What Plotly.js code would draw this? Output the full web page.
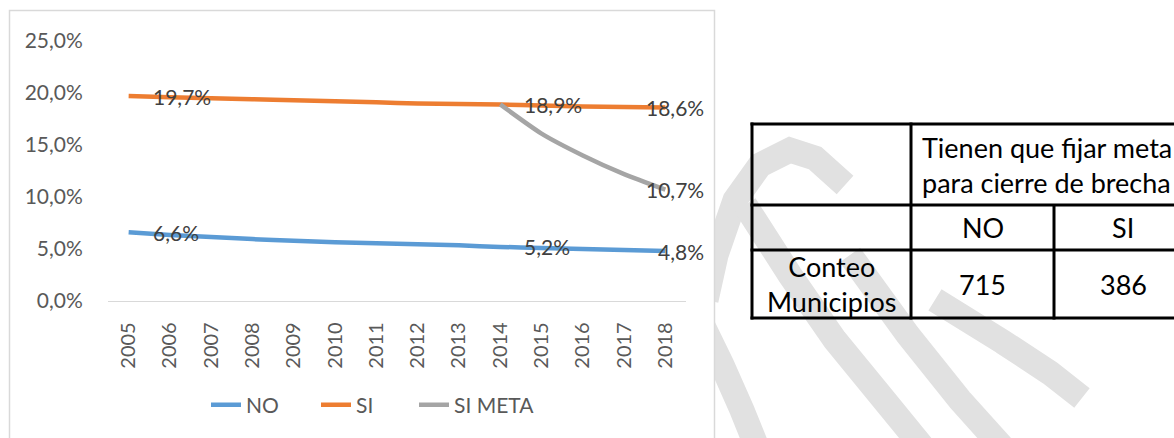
<!DOCTYPE html>
<html>
<head>
<meta charset="utf-8">
<script src="https://cdn.plot.ly/plotly-3.0.1.min.js"></script>
<style>
html,body{margin:0;padding:0;background:#ffffff;}
#chart{width:1174px;height:438px;}
</style>
</head>
<body>
<div id="chart"></div>
<script>
// ---------- data ----------
const years = ['2005','2006','2007','2008','2009','2010','2011','2012','2013','2014','2015','2016','2017','2018'];
const noValues = [6.6, 6.35, 6.15, 5.95, 5.8, 5.65, 5.55, 5.45, 5.35, 5.2, 5.1, 5.0, 4.9, 4.8];
const siValues = [19.7, 19.6, 19.5, 19.4, 19.3, 19.2, 19.1, 19.0, 18.95, 18.9, 18.8, 18.7, 18.65, 18.6];
const siMetaValues = [null, null, null, null, null, null, null, null, null, 18.9, 16.1, 14.0, 12.2, 10.7];
const seriesNames = ['NO', 'SI', 'SI META'];
const yTickValues = [0, 5, 10, 15, 20, 25];
const yTickLabels = ['0,0%', '5,0%', '10,0%', '15,0%', '20,0%', '25,0%'];
const labelledYears = ['2005', '2014', '2018'];

const tableHeader = ['Tienen que fijar meta', 'para cierre de brecha'];
const tableColumns = ['NO', 'SI'];
const tableRowLabel = ['Conteo', 'Municipios'];
const tableCounts = [715, 386];

// ---------- helpers ----------
const W = 1174, H = 438;
const px = v => v / W;
const py = v => 1 - v / H;
const fmt = v => v.toFixed(1).replace('.', ',') + '%';
const path = pts => pts.map((p, i) => (i ? 'L' : 'M') + px(p[0]).toFixed(4) + ',' + py(p[1]).toFixed(4)).join(' ');

const colors = ['#5B9BD5', '#ED7D31', '#A5A5A5'];
const seriesValues = [noValues, siValues, siMetaValues];
const legendWidths = [65, 53, 80];

const traces = seriesValues.map((vals, k) => ({
  type: 'scatter', mode: 'lines', name: seriesNames[k],
  x: years, y: vals,
  line: {color: colors[k], width: 4.5, shape: 'spline', smoothing: 0.6},
  connectgaps: false, hoverinfo: 'skip',
  legendwidth: legendWidths[k]
}));

// ---------- data labels ----------
const annotations = [];
seriesValues.forEach((vals) => {
  labelledYears.forEach((yr) => {
    const i = years.indexOf(yr);
    const v = vals[i];
    if (v === null || v === undefined) return;
    if (vals === siMetaValues && yr !== '2018') return;
    const last = (yr === '2018');
    annotations.push({
      x: i, y: v, xref: 'x', yref: 'y', text: fmt(v), showarrow: false,
      xanchor: last ? 'right' : 'left', yanchor: 'middle',
      xshift: last ? 41 : 22,
      font: {family: 'Lato, sans-serif', size: 21, color: '#404040'}
    });
  });
});

// ---------- table ----------
const T = {top: 124, r1: 205, r2: 250, bottom: 318, left: 752, c1: 911, c2: 1054};
const tFont = {family: 'Lato, sans-serif', size: 27, color: '#000000'};
annotations.push({xref: 'paper', yref: 'paper', x: px(920), y: py((T.top + T.r1) / 2), xanchor: 'left', yanchor: 'middle',
  align: 'left', showarrow: false, text: tableHeader.join('<br>'), font: tFont});
annotations.push({xref: 'paper', yref: 'paper', x: px(982.5), y: py((T.r1 + T.r2) / 2), xanchor: 'center', yanchor: 'middle',
  showarrow: false, text: tableColumns[0], font: tFont});
annotations.push({xref: 'paper', yref: 'paper', x: px(1123), y: py((T.r1 + T.r2) / 2), xanchor: 'center', yanchor: 'middle',
  showarrow: false, text: tableColumns[1], font: tFont});
annotations.push({xref: 'paper', yref: 'paper', x: px(831), y: py((T.r2 + T.bottom) / 2), xanchor: 'center', yanchor: 'middle',
  align: 'center', showarrow: false, text: tableRowLabel.join('<br>'), font: tFont});
annotations.push({xref: 'paper', yref: 'paper', x: px(982.5), y: py((T.r2 + T.bottom) / 2), xanchor: 'center', yanchor: 'middle',
  showarrow: false, text: String(tableCounts[0]), font: tFont});
annotations.push({xref: 'paper', yref: 'paper', x: px(1123), y: py((T.r2 + T.bottom) / 2), xanchor: 'center', yanchor: 'middle',
  showarrow: false, text: String(tableCounts[1]), font: tFont});

// ---------- shapes ----------
const wm = {color: '#e1e1e1', width: 25};
const hl = (y, x0) => ({type: 'line', xref: 'paper', yref: 'paper', x0: px(x0), x1: px(1180), y0: py(y), y1: py(y), line: {color: '#000', width: 3}});
const vl = (x, y0, y1) => ({type: 'line', xref: 'paper', yref: 'paper', x0: px(x), x1: px(x), y0: py(y0), y1: py(y1), line: {color: '#000', width: 3}});
const shapes = [
  // watermark strokes
  {type: 'path', xref: 'paper', yref: 'paper', layer: 'below', line: wm,
   path: path([[706,300],[716,255],[735,200],[760,165],[790,150],[815,158],[845,185]])},
  {type: 'path', xref: 'paper', yref: 'paper', layer: 'below', line: wm,
   path: path([[745,205],[790,275],[835,340],[880,395],[925,450]])},
  {type: 'path', xref: 'paper', yref: 'paper', layer: 'below', line: wm,
   path: path([[850,255],[908,335],[960,400],[1005,450]])},
  {type: 'path', xref: 'paper', yref: 'paper', layer: 'below', line: wm,
   path: path([[935,300],[1003,342],[1050,373],[1082,398]])},
  {type: 'path', xref: 'paper', yref: 'paper', layer: 'below', line: wm,
   path: path([[700,320],[722,365],[742,410],[758,450]])},
  // chart box (white fill, light border)
  {type: 'rect', xref: 'paper', yref: 'paper', layer: 'below',
   x0: px(9.5), x1: px(714.5), y0: py(10.5), y1: py(460),
   fillcolor: '#ffffff', line: {color: '#d9d9d9', width: 1.5}},
  // table lines
  hl(T.top, T.left - 1.5), hl(T.r1, T.left - 1.5), hl(T.r2, T.left - 1.5), hl(T.bottom, T.left - 1.5),
  vl(T.left, T.top - 1.5, T.bottom + 1.5), vl(T.c1, T.top - 1.5, T.bottom + 1.5), vl(T.c2, T.r1, T.bottom + 1.5)
];

const layout = {
  width: W, height: H,
  margin: {l: 0, r: 0, t: 0, b: 0, pad: 0},
  paper_bgcolor: '#ffffff', plot_bgcolor: 'rgba(0,0,0,0)',
  font: {family: 'Lato, sans-serif', color: '#595959'},
  showlegend: true,
  legend: {orientation: 'h', x: px(206), xanchor: 'left', y: py(405), yanchor: 'middle',
    font: {family: 'Lato, sans-serif', size: 21, color: '#595959'}, bgcolor: 'rgba(0,0,0,0)', traceorder: 'normal'},
  xaxis: {
    type: 'category', domain: [px(108), px(686)], range: [-0.5, 13.5],
    tickangle: -90, tickfont: {family: 'Lato, sans-serif', size: 20, color: '#595959'},
    showgrid: false, zeroline: false, showline: true, linecolor: '#d9d9d9', linewidth: 1.3,
    ticks: 'outside', ticklen: 12, tickcolor: 'rgba(0,0,0,0)', fixedrange: true
  },
  yaxis: {
    domain: [py(301), py(41)], range: [0, 25],
    tickvals: yTickValues, ticktext: yTickLabels,
    tickfont: {family: 'Lato, sans-serif', size: 21, color: '#595959'},
    showgrid: false, zeroline: false, showline: false,
    ticks: 'outside', ticklen: 20, tickcolor: 'rgba(0,0,0,0)', fixedrange: true
  },
  shapes: shapes,
  annotations: annotations
};

Plotly.newPlot('chart', traces, layout, {displayModeBar: false, staticPlot: true});
</script>
</body>
</html>
